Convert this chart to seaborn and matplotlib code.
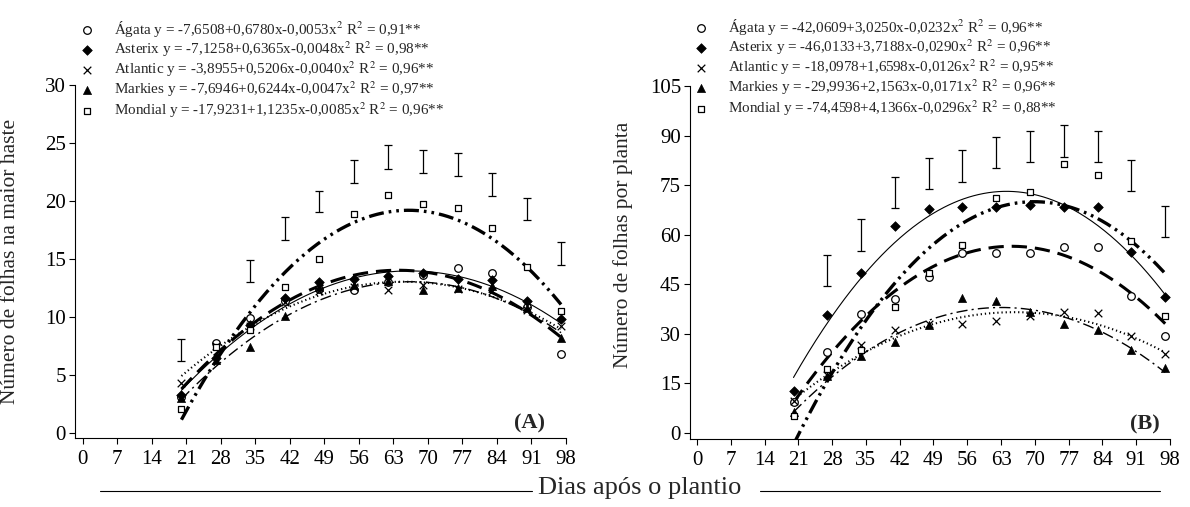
import numpy as np
import pandas as pd
import matplotlib
matplotlib.use("Agg")
import matplotlib.pyplot as plt
import seaborn as sns
from matplotlib.lines import Line2D

sns.set_theme(style="ticks")
plt.rcParams["font.family"] = ["Liberation Serif", "DejaVu Serif"]
plt.rcParams["mathtext.fontset"] = "stix"
plt.rcParams["axes.linewidth"] = 0.8

# ---------------- data ----------------
dias = [20, 27, 34, 41, 48, 55, 62, 69, 76, 83, 90, 97]
cultivares = ["Ágata", "Asterix", "Atlantic", "Markies", "Mondial"]

# Panel A: número de folhas na maior haste
a_agata = [3.1, 7.8, 9.9, 11.4, 12.4, 12.3, 13.0, 13.6, 14.2, 13.8, 10.9, 6.8]
a_asterix = [3.3, 6.5, 9.3, 11.6, 13.0, 13.3, 13.5, 13.8, 13.3, 13.2, 11.4, 9.8]
a_atlantic = [4.3, 7.5, 9.2, 11.3, 12.2, 12.6, 12.3, 12.8, 12.4, 12.2, 10.6, 9.2]
a_markies = [3.0, 6.3, 7.4, 10.1, 12.6, 12.8, 13.1, 12.3, 12.5, 12.7, 10.8, 8.2]
a_mondial = [2.1, 7.4, 8.9, 12.6, 15.0, 18.9, 20.5, 19.7, 19.4, 17.7, 14.3, 10.5]
a_b0 = [-7.6508, -7.1258, -3.8955, -7.6946, -17.9231]
a_b1 = [0.6780, 0.6365, 0.5206, 0.6244, 1.1235]
a_b2 = [-0.0053, -0.0048, -0.0040, -0.0047, -0.0085]
a_r2 = ["0,91", "0,98", "0,96", "0,97", "0,96"]
a_bar_dias = [20, 34, 41, 48, 55, 62, 69, 76, 83, 90, 97]
a_bar_low = [6.2, 13.0, 16.6, 19.05, 21.55, 22.8, 22.4, 22.2, 20.4, 18.4, 14.5]
a_bar_high = [8.1, 14.9, 18.6, 20.9, 23.5, 24.8, 24.4, 24.1, 22.4, 20.3, 16.5]

# Panel B: número de folhas por planta
b_agata = [9.2, 24.5, 36.0, 40.7, 47.1, 54.4, 54.5, 54.5, 56.2, 56.2, 41.4, 29.3]
b_asterix = [12.6, 35.7, 48.5, 62.7, 67.9, 68.5, 68.5, 69.0, 68.5, 68.5, 54.8, 41.2]
b_atlantic = [9.5, 17.5, 26.6, 31.3, 33.0, 32.9, 34.0, 35.4, 36.7, 36.4, 29.3, 23.8]
b_markies = [6.2, 17.2, 23.3, 27.4, 32.6, 41.0, 40.1, 36.7, 33.1, 31.1, 25.1, 19.5]
b_mondial = [5.1, 19.3, 25.1, 38.2, 48.5, 56.9, 71.3, 73.0, 81.6, 78.1, 58.2, 35.3]
b_b0 = [-42.0609, -46.0133, -18.0978, -29.9936, -74.4598]
b_b1 = [3.0250, 3.7188, 1.6598, 2.1563, 4.1366]
b_b2 = [-0.0232, -0.0290, -0.0126, -0.0171, -0.0296]
b_r2 = ["0,96", "0,96", "0,95", "0,96", "0,88"]
b_bar_dias = [27, 34, 41, 48, 55, 62, 69, 76, 83, 90, 97]
b_bar_low = [44.5, 55.2, 68.2, 73.8, 76.1, 80.4, 82.1, 83.6, 82.1, 73.3, 59.4]
b_bar_high = [53.8, 64.7, 77.6, 83.2, 85.7, 89.7, 91.5, 93.2, 91.5, 82.8, 68.7]

xticks = list(range(0, 99, 7))
a_yticks = [0, 5, 10, 15, 20, 25, 30]
b_yticks = [0, 15, 30, 45, 60, 75, 90, 105]

# ---------------- styles ----------------
marker_style = {
    "Ágata": dict(marker="o", color="white", edgecolor="black", linewidth=0.9, s=30),
    "Asterix": dict(marker="D", color="black", edgecolor="black", linewidth=0.5, s=24),
    "Atlantic": dict(marker="x", color="black", linewidth=0.9, s=30),
    "Markies": dict(marker="^", color="black", edgecolor="black", linewidth=0.5, s=34),
    "Mondial": dict(marker="s", color="white", edgecolor="black", linewidth=0.9, s=24),
}
line_style = {
    "Ágata": dict(lw=2.2, linestyle=(0, (5.0, 2.6))),
    "Asterix": dict(lw=0.8, linestyle="-"),
    "Atlantic": dict(lw=1.5, linestyle=(0, (0.6, 1.4))),
    "Markies": dict(lw=1.0, linestyle=(0, (8.0, 3.0, 1.5, 3.0))),
    "Mondial": dict(lw=2.4, linestyle=(0, (4.5, 1.5, 0.8, 1.5, 0.8, 1.5))),
}


def fmt(v):
    return f"{v:.4f}".replace(".", ",")


def make_label(name, b0, b1, b2, r2):
    s1 = "+" if b1 >= 0 else ""
    s2 = "+" if b2 >= 0 else ""
    return (f"{name} y = {fmt(b0)}{s1}{fmt(b1)}x{s2}{fmt(b2)}x$^2$ "
            f"R$^2$ = {r2}**")


fig = plt.figure(figsize=(11.90, 5.07), dpi=100)
axA = fig.add_axes([0.0630, 0.1361, 0.4126, 0.6962])
axB = fig.add_axes([0.5798, 0.1341, 0.4034, 0.6953])

panels = [
    (axA, [a_agata, a_asterix, a_atlantic, a_markies, a_mondial],
     a_b0, a_b1, a_b2, a_r2, a_bar_dias, a_bar_low, a_bar_high,
     (-1.6, 98), (-0.43, 30), a_yticks, "Número de folhas na maior haste",
     "(A)", (0.0665, 0.963), (-0.112, 0.5), (0.925, 0.012)),
    (axB, [b_agata, b_asterix, b_atlantic, b_markies, b_mondial],
     b_b0, b_b1, b_b2, b_r2, b_bar_dias, b_bar_low, b_bar_high,
     (-1.45, 98), (-1.9, 105), b_yticks, "Número de folhas por planta",
     "(B)", (0.5823, 0.967), (-0.119, 0.55), (0.948, 0.012)),
]

xgrid = np.linspace(dias[0], dias[-1], 300)

for (ax, series, b0s, b1s, b2s, r2s, bd, blo, bhi, xlim, ylim, yticks,
     ylabel, tag, leg_xy, ylab_xy, tag_xy) in panels:
    # fitted regression curves (from the printed equations)
    for i, name in enumerate(cultivares):
        yfit = b0s[i] + b1s[i] * xgrid + b2s[i] * xgrid ** 2
        sns.lineplot(x=xgrid, y=yfit, ax=ax, color="black", zorder=2,
                     **line_style[name])
    # observed means
    for i, name in enumerate(cultivares):
        df = pd.DataFrame({"dias": dias, "valor": series[i]})
        sns.scatterplot(data=df, x="dias", y="valor", ax=ax, zorder=3,
                        label=make_label(name, b0s[i], b1s[i], b2s[i], r2s[i]),
                        **marker_style[name])
    # DMS bars
    lo = np.array(blo)
    hi = np.array(bhi)
    ax.errorbar(bd, (lo + hi) / 2, yerr=(hi - lo) / 2, fmt="none",
                ecolor="black", elinewidth=0.9, capsize=3.0, capthick=0.9,
                zorder=3)

    ax.set_xlim(*xlim)
    ax.set_ylim(*ylim)
    ax.set_xticks(xticks)
    ax.set_yticks(yticks)
    ax.set_xlabel("")
    ax.set_ylabel(ylabel, fontsize=15.5)
    ax.yaxis.set_label_coords(*ylab_xy)
    ax.tick_params(axis="both", direction="out", length=4, width=0.8,
                   labelsize=15, colors="black", pad=2.5)
    ax.tick_params(axis="x", pad=4.5)
    sns.despine(ax=ax)
    for sp in ("left", "bottom"):
        ax.spines[sp].set_color("black")
    ax.text(tag_xy[0], tag_xy[1], tag, transform=ax.transAxes,
            fontsize=16, fontweight="bold", ha="center", va="bottom")

    ax.legend(loc="upper left", bbox_to_anchor=leg_xy,
              bbox_transform=fig.transFigure, frameon=False, fontsize=10.9,
              handlelength=1.0, handletextpad=1.3, labelspacing=0.04,
              borderpad=0, borderaxespad=0)

# common x label with rules on either side
fig.text(640 / 1190, 1 - 488 / 507, "Dias após o plantio", ha="center",
         va="center", fontsize=19)
yl = 1 - 491 / 507
fig.add_artist(Line2D([100 / 1190, 532 / 1190], [yl, yl],
                      transform=fig.transFigure, color="black", lw=0.8))
fig.add_artist(Line2D([760 / 1190, 1160 / 1190], [yl, yl],
                      transform=fig.transFigure, color="black", lw=0.8))

fig.savefig("out.png", dpi=100)
